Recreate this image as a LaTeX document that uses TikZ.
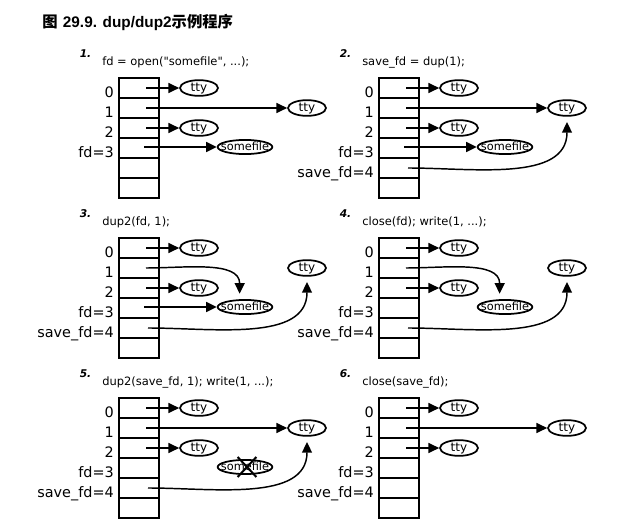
\documentclass[tikz,border=0pt]{standalone}
\usepackage{fontspec}
\setmainfont{DejaVu Sans}
\newfontfamily\titlefont{Liberation Sans}
\newfontfamily\cjk{Noto Sans CJK SC}
\usetikzlibrary{arrows.meta,shapes.geometric,shapes.misc}

\begin{document}
\begin{tikzpicture}[x=0.75pt,y=-0.75pt]
  \tikzset{
    FdTable/.style = {line width=1.4pt},
    FdLabel/.style = {anchor=base east, inner sep=0pt, font=\fontsize{10.8}{12}\selectfont},
    StepNum/.style = {anchor=base west, inner sep=0pt, font=\fontsize{8}{10}\selectfont\bfseries\itshape},
    StepCode/.style = {anchor=base west, inner sep=0pt, font=\fontsize{8.6}{10}\selectfont},
    FileStyle/.style = {draw, ellipse, line width=1.3pt, inner sep=0pt, text height=4.6pt, text depth=0pt,
                        minimum width=28.5pt, minimum height=11.8pt, font=\fontsize{9}{10}\selectfont},
    SomeFile/.style = {FileStyle, text height=5.8pt, minimum width=41pt, minimum height=10.6pt,
                       font=\fontsize{8.5}{10}\selectfont},
    EdgeStyle/.style = {line width=1.1pt, -{Triangle[length=8pt,width=7.5pt]}},
    BentEdge/.style = {EdgeStyle, shorten >=4pt},
    CrossStyle/.style = {draw, cross out, line width=1.5pt, inner sep=0pt, minimum width=12.5pt, minimum height=13.5pt}
  }
  \useasboundingbox (0,0) rectangle (637,524);
  \node[anchor=base west, inner sep=0pt, font=\fontsize{11.5}{14}\selectfont\bfseries] (title) at (42,28)
    {{\cjk 图} {\titlefont 29.9. dup/dup2}{\cjk 示例程序}};

  % fd table of each step
  \foreach \n/\x/\y/\code in {1/119/78/{fd = open(\textquotedbl somefile\textquotedbl, ...);},
                              2/379/78/{save\_fd = dup(1);},
                              3/119/238/{dup2(fd, 1);},
                              4/379/238/{close(fd); write(1, ...);},
                              5/119/398/{dup2(save\_fd, 1); write(1, ...);},
                              6/379/398/{close(save\_fd);}}{
    \begin{scope}[shift={(\x,\y)}]
      \node[StepNum] (num\n) at (-39.5,-20.5) {\n.};
      \node[StepCode] (code\n) at (-17,-12) {\code};
      \draw[FdTable] (0,0) rectangle (40,120);
      \foreach \r in {20,40,...,100} \draw[FdTable] (0,\r) -- (40,\r);
      \node[FdLabel] (p\n l0) at (-5,20) {0};
      \node[FdLabel] (p\n l1) at (-5,40) {1};
      \node[FdLabel] (p\n l2) at (-5,60) {2};
      \node[FdLabel] (p\n l3) at (-5,80) {fd=3};
      \ifnum\n>1 \node[FdLabel] (p\n l4) at (-5,100) {save\_fd=4}; \fi
      \coordinate (p\n r0) at (27,10);
      \coordinate (p\n r1) at (27,30);
      \coordinate (p\n r2) at (27,50);
      \coordinate (p\n r3) at (25,69);
      \coordinate (p\n r4) at (29,90);
      \node[FileStyle] (p\n t0) at (80,10) {\makebox[0pt]{tty}};
      \node[FileStyle] (p\n t1) at (188,30) {\makebox[0pt]{tty}};
      \node[FileStyle] (p\n t2) at (80,50) {\makebox[0pt]{tty}};
      \ifnum\n<6 \node[SomeFile] (p\n sf) at (126,69) {\makebox[0pt]{somefile}}; \fi
      \draw[EdgeStyle] (p\n r0) -- (p\n t0);
      \draw[EdgeStyle] (p\n r2) -- (p\n t2);
    \end{scope}
  }

  % 1. open
  \draw[EdgeStyle] (p1r1) -- (p1t1);
  \draw[EdgeStyle] (p1r3) -- (p1sf);

  % 2. dup
  \draw[EdgeStyle] (p2r1) -- (p2t1);
  \draw[EdgeStyle] (p2r3) -- (p2sf);
  \draw[BentEdge] (p2r4) to[out=0,in=-90] (p2t1);

  % 3. dup2
  \draw[BentEdge] (p3r1) to[out=0,in=90] ([xshift=-4pt]p3sf.north);
  \draw[EdgeStyle] (p3r3) -- (p3sf);
  \draw[BentEdge] (p3r4) to[out=0,in=-90] (p3t1);

  % 4. close
  \draw[BentEdge] (p4r1) to[out=0,in=90] ([xshift=-4pt]p4sf.north);
  \draw[BentEdge] (p4r4) to[out=0,in=-90] (p4t1);

  % 5. dup2 back, somefile gone
  \draw[EdgeStyle] (p5r1) -- (p5t1);
  \draw[BentEdge] (p5r4) to[out=0,in=-90] (p5t1);
  \node[CrossStyle] (p5x) at ([xshift=1.5pt]p5sf.center) {};

  % 6. close
  \draw[EdgeStyle] (p6r1) -- (p6t1);
\end{tikzpicture}
\end{document}
